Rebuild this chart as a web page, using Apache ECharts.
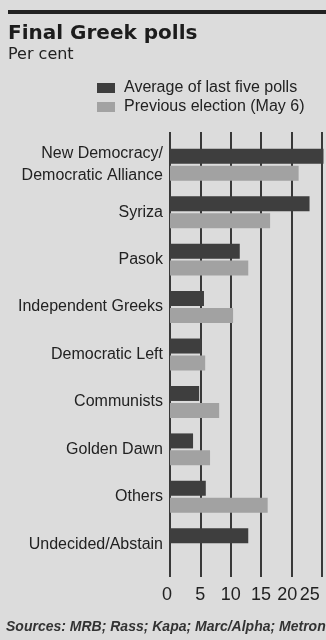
<!DOCTYPE html>
<html>
<head>
<meta charset="utf-8">
<script src="https://cdn.jsdelivr.net/npm/echarts@6/dist/echarts.min.js"></script>
<style>
  html, body { margin: 0; padding: 0; background: #dcdcdc; }
  #chart { width: 326px; height: 640px; }
</style>
</head>
<body>
<div id="chart"></div>
<script>
// data
const parties = ['New Democracy/\nDemocratic Alliance', 'Syriza', 'Pasok', 'Independent Greeks',
  'Democratic Left', 'Communists', 'Golden Dawn', 'Others', 'Undecided/Abstain'];
const avgLastFive = [25.3, 23.0, 11.5, 5.6, 5.2, 4.8, 3.8, 5.9, 12.9];
const previousElection = [21.2, 16.5, 12.9, 10.4, 5.8, 8.1, 6.6, 16.1, null];
const tickValues = [0, 5, 10, 15, 20, 25];

const labelFont = 'Liberation Sans';
const chart = echarts.init(document.getElementById('chart'));

chart.setOption({
  backgroundColor: '#dcdcdc',
  animation: false,
  title: {
    text: 'Final Greek polls',
    subtext: 'Per cent',
    left: 3,
    top: 19,
    itemGap: 3,
    textStyle: { fontFamily: 'DejaVu Sans', fontWeight: 'bold', fontSize: 20, color: '#1c1c1c' },
    subtextStyle: { fontFamily: 'DejaVu Sans', fontSize: 16, color: '#222' }
  },
  legend: {
    orient: 'vertical',
    left: 97,
    top: 80,
    padding: 0,
    itemWidth: 18,
    itemHeight: 10,
    itemGap: 3,
    icon: 'rect',
    textStyle: { fontFamily: labelFont, fontSize: 16, color: '#222', padding: [0, 0, 0, 4] },
    data: ['Average of last five polls', 'Previous election (May 6)']
  },
  graphic: [
    { type: 'rect', shape: { x: 8, y: 10, width: 330, height: 4 }, style: { fill: '#222' } },
    {
      type: 'text', left: 6, top: 620,
      style: {
        text: 'Sources: MRB; Rass; Kapa; Marc/Alpha; Metron Analysis',
        font: 'italic bold 14px "Liberation Sans"', fill: '#333'
      }
    }
  ],
  grid: [
    { left: 170, right: -26, top: 141, height: 427, outerBoundsMode: 'none' },
    { left: 170, right: -26, top: 132, bottom: 63, outerBoundsMode: 'none' }
  ],
  xAxis: [
    { gridIndex: 0, type: 'value', min: 0, max: 30, interval: 5, show: false },
    {
      gridIndex: 1, type: 'value', min: 0, max: 30, interval: 5,
      axisLine: { show: false }, axisTick: { show: false },
      splitLine: { show: true, lineStyle: { color: '#262626', width: 1.8 } },
      axisLabel: {
        margin: 9,
        fontFamily: labelFont, fontSize: 18, color: '#222',
        formatter: v => tickValues.includes(v) ? '{t' + v + '|' + v + '}' : '',
        rich: {
          t0: { padding: [0, 6, 0, 0], fontSize: 18 },
          t5: { fontSize: 18 },
          t10: { fontSize: 18 },
          t15: { fontSize: 18 },
          t20: { padding: [0, 8, 0, 0], fontSize: 18 },
          t25: { padding: [0, 24, 0, 0], fontSize: 18 }
        }
      }
    }
  ],
  yAxis: [
    {
      gridIndex: 0, type: 'category', inverse: true, data: parties,
      axisLine: { show: false }, axisTick: { show: false },
      axisLabel: { margin: 7, fontFamily: labelFont, fontSize: 16, lineHeight: 22, color: '#222' }
    },
    { gridIndex: 1, type: 'value', show: false }
  ],
  series: [
    {
      name: 'Average of last five polls', type: 'bar', xAxisIndex: 0, yAxisIndex: 0,
      data: avgLastFive, barWidth: 15, barGap: '13%',
      itemStyle: { color: '#3e3e3e' }
    },
    {
      name: 'Previous election (May 6)', type: 'bar', xAxisIndex: 0, yAxisIndex: 0,
      data: previousElection, barWidth: 15, barGap: '13%',
      itemStyle: { color: '#a2a2a2' }
    }
  ]
});
</script>
</body>
</html>
